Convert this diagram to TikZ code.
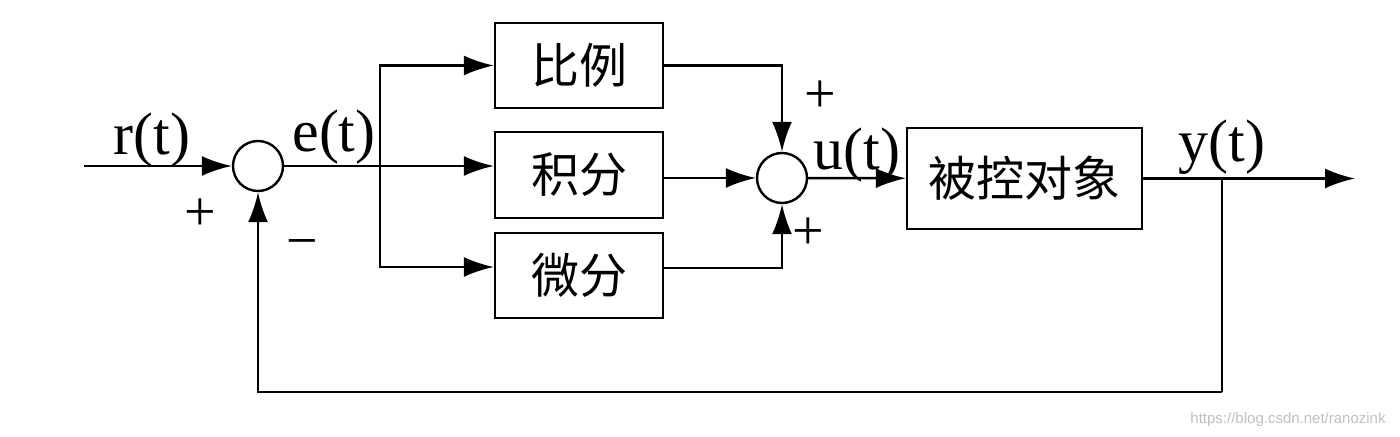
\documentclass[tikz,border=0pt]{standalone}
\usepackage{fontspec}
\setmainfont{Liberation Serif}
\newfontfamily\cjk{Noto Sans CJK SC}
\newfontfamily\wmfont{Liberation Sans}
\usetikzlibrary{arrows.meta}

\begin{document}
\begin{tikzpicture}[x=0.5pt, y=-0.5pt, line width=1.2pt,
   blk/.style={draw, minimum width=84pt, inner sep=0pt, font=\cjk\fontsize{24}{24}\selectfont},
   sum/.style={draw, circle, minimum size=25pt, inner sep=0pt},
   lbl/.style={anchor=base, inner sep=0pt, font=\fontsize{30}{30}\selectfont},
   sgn/.style={inner sep=0pt, font=\fontsize{28}{28}\selectfont},
   arr/.style={-{Latex[length=15pt, width=10pt]}}]
   \useasboundingbox (0,0) rectangle (1400,437);
   \node[sum] (s1) at (258,166) {};   % error summer
   \node[sum] (s2) at (782,178) {};   % pid summer
   \node[blk, minimum height=42.5pt] (bP) at (579,65.5) {比例};
   \node[blk, minimum height=43pt] (bI) at (579,175) {积分};
   \node[blk, minimum height=42.5pt] (bD) at (579,275.5) {微分};
   \node[blk, minimum width=117.5pt, minimum height=50.5pt] (plant) at (1024.5,178.5) {被控对象};
   \coordinate (in) at (84,166);
   \coordinate (br) at (380,166);
   \coordinate (fb) at (1222,178.5);
   \coordinate (fbot) at (1222,392);
   \coordinate (out) at (1355,178.5);
   \draw[arr] (in) -- (s1);
   \draw (s1) -- (br);
   \draw[arr] (br) |- (bP);
   \draw[arr] (br) -- (br -| bI.west);
   \draw[arr] (br) |- ([yshift=4.25pt]bD.west);
   \draw[arr] (bP) -| (s2);
   \draw[arr] (bI.east |- s2) -- (s2);
   \draw[arr] ([yshift=3.75pt]bD.east) -| (s2);
   \draw[arr] (s2) -- (plant);
   \draw[arr] (plant) -- (out);
   \draw (fb) -- (fbot);   % feedback
   \draw[arr] (fbot) -| (s1);
   \node[lbl] (lr) at (152,155) {r(t)};
   \node[lbl] (le) at (334,152) {e(t)};
   \node[lbl] (lu) at (857,170) {u(t)};
   \node[lbl] (ly) at (1222,162) {y(t)};
   \node[sgn] (p1) at (200,215) {+};
   \node[sgn] (m1) at (302,250) {−};
   \node[sgn] (p2) at (820,97) {+};
   \node[sgn] (p3) at (808,234) {+};
   \node[text=black!25, font=\wmfont\fontsize{7.5}{7.5}\selectfont] (wm) at (1288,420) {https://blog.csdn.net/ranozink};
\end{tikzpicture}
\end{document}
